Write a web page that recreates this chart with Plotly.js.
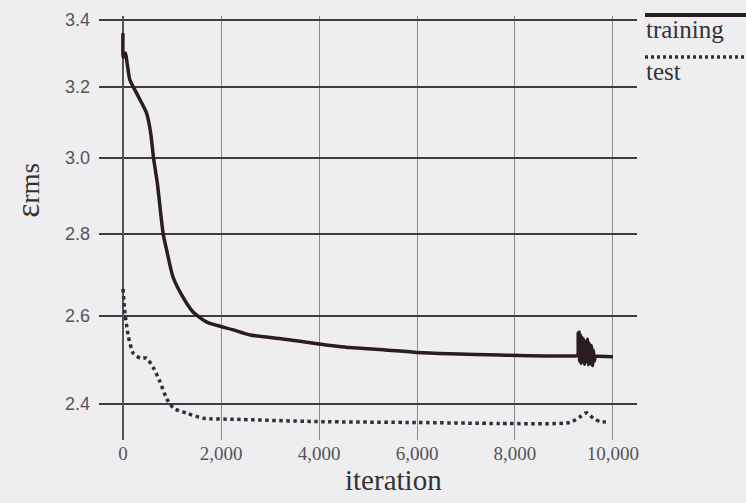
<!DOCTYPE html>
<html>
<head>
<meta charset="utf-8">
<script src="https://cdn.plot.ly/plotly-3.0.1.min.js"></script>
<style>
  html, body { margin: 0; padding: 0; background: #ecebee; }
  #chart { width: 746px; height: 503px; }
</style>
</head>
<body>
<div id="chart"></div>
<script>
// Training error (solid line)
var trainIter = [0, 5, 50, 80, 140, 210, 350, 480, 565, 620, 700, 820, 890, 1020, 1220, 1430, 1710, 2250, 2600, 3260, 3960, 4630, 5310, 6000, 6670, 7690,
  9260, 9280, 9290, 9300, 9310, 9320, 9335, 9350, 9365, 9380, 9400, 9420, 9440, 9460, 9480, 9500, 9520, 9540, 9560, 9580, 9600, 9620, 9640, 9700, 10000];
var trainVal = [3.360, 3.287, 3.300, 3.273, 3.220, 3.200, 3.162, 3.125, 3.069, 3.003, 2.933, 2.800, 2.760, 2.693, 2.645, 2.609, 2.585, 2.567, 2.555, 2.546, 2.535, 2.526, 2.521, 2.515, 2.512, 2.509,
  2.507, 2.508, 2.560, 2.515, 2.562, 2.495, 2.555, 2.490, 2.550, 2.500, 2.545, 2.488, 2.540, 2.495, 2.545, 2.487, 2.535, 2.490, 2.530, 2.485, 2.520, 2.495, 2.506, 2.506, 2.505];

// Test error (dotted line)
var testIter = [0, 40, 110, 210, 350, 480, 620, 755, 890, 1030, 1300, 1640, 2250, 3960, 6000, 7690, 9120, 9330, 9460, 9600, 9735, 9900];
var testVal  = [2.664, 2.606, 2.551, 2.513, 2.502, 2.502, 2.480, 2.449, 2.412, 2.391, 2.380, 2.369, 2.367, 2.362, 2.360, 2.358, 2.360, 2.3725, 2.381, 2.369, 2.362, 2.361];

var yTicks = [2.4, 2.6, 2.8, 3.0, 3.2, 3.4];
var yTickText = ['2.4', '2.6', '2.8', '3.0', '3.2', '3.4'];
var xTicks = [0, 2000, 4000, 6000, 8000, 10000];
var xTickText = ['0', '2,000', '4,000', '6,000', '8,000', '10,000'];

var traces = [
  {x: trainIter, y: trainVal, type: 'scatter', mode: 'lines', name: 'training',
   line: {color: '#2a1c22', width: 3.5, shape: 'spline', smoothing: 0.6}, showlegend: false},
  {x: testIter, y: testVal, type: 'scatter', mode: 'lines', name: 'test',
   line: {color: '#3a2a35', width: 3.5, dash: '3.5px,3.5px', shape: 'spline', smoothing: 0.6}, showlegend: false}
];

var layout = {
  width: 746, height: 503,
  margin: {l: 99, r: 109, t: 16, b: 63},
  paper_bgcolor: '#eeedf0',
  plot_bgcolor: 'rgba(0,0,0,0)',
  font: {family: 'Liberation Serif, serif', color: '#444'},
  xaxis: {
    range: [-490, 10490],
    tickvals: xTicks, ticktext: xTickText,
    showgrid: true, gridcolor: '#8a8a8e', gridwidth: 1,
    zeroline: true, zerolinecolor: '#555', zerolinewidth: 1.5,
    showline: false, ticks: '',
    tickfont: {family: 'Liberation Serif, serif', size: 19, color: '#555'},
    ticklabelstandoff: 0
  },
  yaxis: {
    type: 'log',
    range: [0.36602, 0.53308],
    tickvals: yTicks, ticktext: yTickText,
    showgrid: true, gridcolor: '#3c3c40', gridwidth: 1.5,
    zeroline: false, showline: false, ticks: '',
    tickfont: {family: 'Liberation Sans, sans-serif', size: 18, color: '#555'},
    ticklabelstandoff: 8
  },
  shapes: [
    {type: 'line', xref: 'paper', yref: 'paper', x0: 1.0149, x1: 1.21, y0: 1.0024, y1: 1.0024,
     line: {color: '#2a1c22', width: 4}},
    {type: 'line', xref: 'paper', yref: 'paper', x0: 1.0149, x1: 1.21, y0: 0.9033, y1: 0.9033,
     line: {color: '#3a2a35', width: 3.5, dash: '3px,3px'}}
  ],
  annotations: [
    {text: 'training', xref: 'paper', yref: 'paper', x: 1.0125, y: 0.967, xanchor: 'left', yanchor: 'middle',
     showarrow: false, font: {family: 'Liberation Serif, serif', size: 25, color: '#333'}},
    {text: 'test', xref: 'paper', yref: 'paper', x: 1.0125, y: 0.868, xanchor: 'left', yanchor: 'middle',
     showarrow: false, font: {family: 'Liberation Serif, serif', size: 25, color: '#333'}},
    {text: 'iteration', xref: 'paper', yref: 'paper', x: 0.548, y: -0.094, xanchor: 'center', yanchor: 'middle',
     showarrow: false, font: {family: 'Liberation Serif, serif', size: 29, color: '#333'}},
    {text: '<span style="font-size:34px">ε</span>rms', xref: 'paper', yref: 'paper', x: -0.132, y: 0.59,
     xanchor: 'center', yanchor: 'middle', textangle: -90,
     showarrow: false, font: {family: 'Liberation Serif, serif', size: 27, color: '#333'}}
  ]
};

Plotly.newPlot('chart', traces, layout, {displayModeBar: false, staticPlot: true});
</script>
</body>
</html>
